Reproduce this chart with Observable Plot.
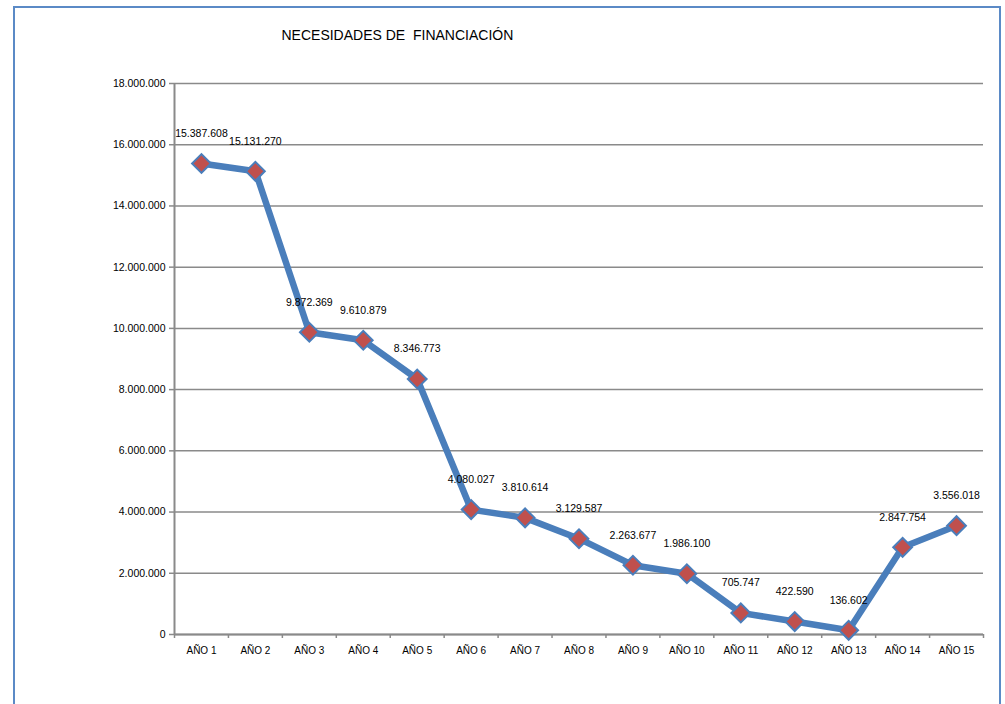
<!DOCTYPE html>
<html>
<head>
<meta charset="utf-8">
<script src="https://cdn.jsdelivr.net/npm/d3@7"></script>
<script src="https://cdn.jsdelivr.net/npm/@observablehq/plot@0.6"></script>
<style>
  html, body { margin: 0; padding: 0; background: #fff; }
  #wrap { position: relative; width: 1005px; height: 704px; overflow: hidden; }
  #frame { position: absolute; left: 13px; top: 6px; width: 988px; height: 720px;
           border: 2px solid #5b8ac6; box-sizing: border-box; pointer-events: none; }
</style>
</head>
<body>
<div id="wrap"><div id="frame"></div></div>
<script>
// Necesidades de financiación por año
const title = "NECESIDADES DE  FINANCIACIÓN";
const years = ["AÑO 1", "AÑO 2", "AÑO 3", "AÑO 4", "AÑO 5", "AÑO 6", "AÑO 7", "AÑO 8",
               "AÑO 9", "AÑO 10", "AÑO 11", "AÑO 12", "AÑO 13", "AÑO 14", "AÑO 15"];
const values = [15387608, 15131270, 9872369, 9610879, 8346773, 4080027, 3810614, 3129587,
                2263677, 1986100, 705747, 422590, 136602, 2847754, 3556018];
const yTicks = [0, 2000000, 4000000, 6000000, 8000000, 10000000, 12000000, 14000000, 16000000, 18000000];

const es = d3.formatLocale({decimal: ",", thousands: ".", grouping: [3], currency: ["", " €"]});
const fmt = es.format(",d");

const data = years.map((year, i) => ({idx: i + 1, year, value: values[i]}));
const centers = data.map(d => d.idx);
const bounds = d3.range(0, years.length + 1).map(i => i + 0.5);

const lineColor = "#4a7ebb";
const gridColor = "#8a8a8a";
const font = "'Liberation Sans', Arial, sans-serif";

const chart = Plot.plot({
  width: 1005,
  height: 704,
  marginLeft: 174,
  marginRight: 22,
  marginTop: 83,
  marginBottom: 70,
  style: {fontFamily: font, fontSize: "10.5px", color: "#000", background: "transparent"},
  x: {type: "linear", domain: [0.5, years.length + 0.5]},
  y: {domain: [0, 18000000]},
  marks: [
    Plot.gridY(yTicks, {stroke: gridColor, strokeOpacity: 1, strokeWidth: 1.5}),
    Plot.ruleX([0.5], {stroke: gridColor, strokeWidth: 2}),
    Plot.ruleY([0], {stroke: gridColor, strokeWidth: 2}),
    Plot.axisY(yTicks, {tickFormat: fmt, tickSize: 5, tickPadding: 4, stroke: gridColor, strokeWidth: 1.5, label: null, fontSize: 10.5}),
    Plot.axisX(bounds, {tickFormat: () => "", tickSize: 4, stroke: gridColor, strokeWidth: 1.5, label: null}),
    Plot.axisX(centers, {tickFormat: i => years[i - 1], tickSize: 0, tickPadding: 12, label: null, fontSize: 10}),
    Plot.line(data, {x: "idx", y: "value", stroke: lineColor, strokeWidth: 6.5, strokeLinejoin: "round"}),
    Plot.dot(data, {x: "idx", y: "value", symbol: "square", r: 7.5, rotate: 45,
                    fill: "#c0504d", stroke: lineColor, strokeWidth: 2}),
    Plot.text(data, {x: "idx", y: "value", text: d => fmt(d.value), dy: -30, fontSize: 10.5, fill: "#000"}),
    Plot.text([title], {frameAnchor: "top-left", dx: 281 - 174, dy: 30 - 83, textAnchor: "start",
                        fontSize: 14, fill: "#000"})
  ]
});

document.getElementById("wrap").prepend(chart);
</script>
</body>
</html>
